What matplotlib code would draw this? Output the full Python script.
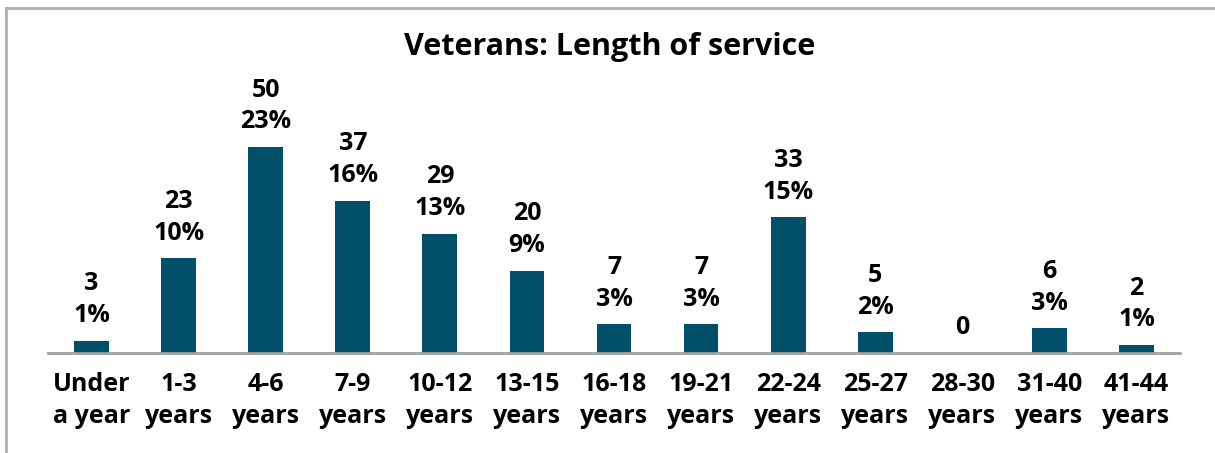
import matplotlib.pyplot as plt
from matplotlib.lines import Line2D

# veterans length of service
categories = ['Under\na year', '1-3\nyears', '4-6\nyears', '7-9\nyears', '10-12\nyears',
              '13-15\nyears', '16-18\nyears', '19-21\nyears', '22-24\nyears', '25-27\nyears',
              '28-30\nyears', '31-40\nyears', '41-44\nyears']
counts = [3, 23, 50, 37, 29, 20, 7, 7, 33, 5, 0, 6, 2]
percents = ['1%', '10%', '23%', '16%', '13%', '9%', '3%', '3%', '15%', '2%', '', '3%', '1%']

plt.rcParams['font.family'] = ['Open Sans', 'DejaVu Sans']
barColour = '#00506B'
fs = 18
ls = 1.35

fig = plt.figure(figsize=(12.15, 4.53), dpi=100)
ax = fig.add_axes([48 / 1215, 1 - 353 / 453, 1132 / 1215, 300 / 453])

x = list(range(len(categories)))
ax.bar(x, counts, width=0.4, color=barColour)
ax.set_xlim(-0.5, len(categories) - 0.5)
ax.set_ylim(0, 300 / 4.12)

for xi, c, p in zip(x, counts, percents):
    label = str(c) if p == '' else str(c) + '\n' + p
    ax.annotate(label, (xi, c), xytext=(0, 9), textcoords='offset points',
                ha='center', va='bottom', fontsize=fs, fontweight='bold',
                linespacing=ls, color='black')

ax.set_xticks(x)
ax.set_xticklabels(categories, fontsize=fs, fontweight='bold', linespacing=ls)
ax.tick_params(axis='x', length=0, pad=14)
ax.set_yticks([])
for side in ['top', 'right', 'left']:
    ax.spines[side].set_visible(False)
ax.spines['bottom'].set_color('#a0a0a0')
ax.spines['bottom'].set_linewidth(2)

fig.text(610 / 1215, 1 - 47 / 453, 'Veterans: Length of service', ha='center', va='center',
         fontsize=22, fontweight='bold')

# outer border (top and left only visible)
fig.add_artist(Line2D([6 / 1215, 1], [1 - 8 / 453, 1 - 8 / 453], color='#b0b0b0', lw=2))
fig.add_artist(Line2D([6 / 1215, 6 / 1215], [0, 1 - 8 / 453], color='#b0b0b0', lw=2))

fig.savefig('out.png', dpi=100)
